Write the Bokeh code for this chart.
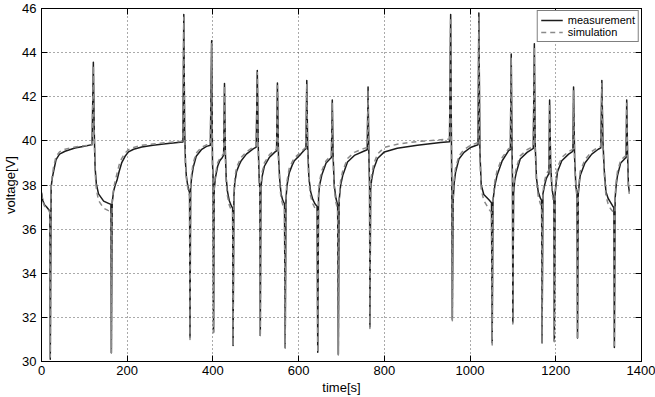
from bokeh.plotting import figure
from bokeh.models import LinearAxis, FixedTicker, Range1d, Legend, LegendItem
from bokeh.embed import file_html
from bokeh.resources import INLINE

# time axis [s] (one row per charge/discharge cycle)
time_s = [
    0, 3, 7, 12, 17, 19.5, 20.5, 22.5,
    25, 28, 34, 42, 55, 78, 100, 118, 121, 123, 125, 128, 133, 145, 155, 162, 163,
    165, 168, 172, 176, 181, 187, 195, 203, 215, 234, 260, 290, 318, 330, 332, 334, 336, 338, 341, 344, 345.5, 346.5,
    348, 350, 354, 361, 373, 385, 394, 397, 399, 400.5, 401.5,
    403, 406, 411, 416, 422, 425, 427, 429, 431, 434, 438, 443, 446, 447,
    449, 451, 455, 461, 466, 478, 493, 501, 503.5, 506, 508, 509.5, 510.5,
    512, 515, 520, 532, 545, 548.5, 550.5, 553, 556, 559, 563, 567, 568.6,
    570.5, 573, 578, 585, 590, 605, 615, 617, 619, 621, 624, 628, 633, 638, 643, 644.6,
    646.5, 649, 654, 664, 674, 676.5, 678.5, 680.5, 683, 687, 691, 692.6,
    694.5, 698, 703, 714, 730, 753, 760, 762, 764, 765.5, 766.3,
    768, 770, 775, 784, 800, 830, 877, 931, 952, 954.7, 956.5, 957.5, 958.6,
    960.5, 963, 966, 974, 986, 1001, 1015, 1018.5, 1020.5, 1023, 1026, 1032, 1044, 1050, 1051.6,
    1053.5, 1058, 1063, 1075, 1090, 1094, 1096, 1098, 1099, 1099.8,
    1101.5, 1104, 1108, 1117, 1133, 1145, 1147.5, 1150, 1152, 1155, 1159, 1164, 1167, 1168,
    1170, 1174, 1178, 1182, 1184, 1185.6, 1188, 1191, 1194, 1195.5, 1196.5,
    1198.5, 1201, 1204, 1214, 1230, 1238, 1240, 1241.5, 1244, 1247, 1249.5, 1250.7,
    1252.5, 1255, 1257, 1268, 1284, 1299, 1305, 1307.5, 1310, 1313, 1317, 1322, 1327, 1333, 1335.5, 1336.7,
    1338.5, 1341, 1344, 1351.5, 1361.5, 1364, 1365.5, 1367.5, 1369.5, 1371.5,
]

measured_v = [
    37.65, 37.3, 37.1, 37.0, 36.88, 36.8, 30.1, 37.9,
    38.3, 38.6, 39.15, 39.4, 39.53, 39.68, 39.76, 39.83, 43.56, 40.5, 38.8, 38.05, 37.6, 37.27, 37.18, 37.12, 30.4,
    37.2, 37.7, 38.0, 38.2, 38.6, 39.0, 39.3, 39.5, 39.62, 39.72, 39.8, 39.87, 39.93, 39.95, 45.73, 40.5, 39.0, 38.4, 38.0, 37.75, 37.65, 31.1,
    37.8, 38.3, 38.8, 39.3, 39.6, 39.75, 39.8, 44.54, 39.0, 38.3, 31.34,
    37.8, 38.35, 38.85, 39.1, 39.25, 39.35, 42.6, 39.5, 38.3, 37.7, 37.3, 37.05, 36.95, 30.73,
    37.5, 38.1, 38.6, 38.9, 39.1, 39.4, 39.63, 39.72, 43.19, 39.6, 38.2, 37.9, 31.18,
    37.9, 38.4, 38.85, 39.26, 39.5, 39.55, 42.62, 39.3, 38.2, 37.6, 37.3, 37.15, 30.63,
    37.4, 38.0, 38.55, 38.9, 39.1, 39.4, 39.62, 39.64, 42.74, 39.8, 38.3, 37.7, 37.35, 37.15, 37.03, 30.42,
    37.5, 38.0, 38.45, 39.0, 39.2, 39.25, 41.85, 39.3, 38.0, 37.4, 37.1, 30.33,
    37.3, 38.0, 38.44, 39.04, 39.34, 39.54, 39.6, 42.44, 39.2, 38.0, 31.57,
    37.8, 38.2, 38.72, 39.2, 39.5, 39.67, 39.8, 39.93, 39.96, 45.73, 40.0, 37.5, 31.91,
    37.3, 38.1, 38.56, 39.18, 39.48, 39.7, 39.8, 39.82, 45.8, 39.5, 38.0, 37.57, 37.33, 37.2, 30.85,
    37.3, 38.0, 38.44, 39.1, 39.56, 39.6, 43.94, 39.5, 38.2, 31.78,
    37.6, 38.2, 38.58, 39.18, 39.48, 39.63, 39.66, 44.4, 39.8, 38.3, 37.7, 37.4, 37.3, 30.85,
    37.6, 38.0, 38.3, 38.45, 38.5, 41.85, 39.0, 37.85, 37.5, 37.4, 30.93,
    37.6, 38.1, 38.6, 39.1, 39.4, 39.5, 39.55, 42.44, 39.2, 37.9, 37.7, 31.07,
    37.6, 38.1, 38.43, 39.0, 39.4, 39.62, 39.68, 42.74, 40.0, 38.7, 37.7, 37.4, 37.24, 37.04, 36.98, 30.63,
    37.4, 38.0, 38.43, 39.0, 39.2, 39.25, 41.85, 39.4, 38.0, 37.7,
]

simulated_v = [
    37.6, 37.25, 37.05, 36.95, 36.85, 36.75, 30.2, 37.9,
    38.4, 38.8, 39.3, 39.5, 39.62, 39.72, 39.78, 39.82, 43.4, 40.3, 38.6, 37.8, 37.3, 36.95, 36.85, 36.8, 30.4,
    37.3, 37.8, 38.2, 38.5, 38.9, 39.2, 39.45, 39.6, 39.7, 39.8, 39.86, 39.92, 39.96, 39.98, 45.6, 40.3, 38.9, 38.3, 37.9, 37.6, 37.5, 31.0,
    37.9, 38.5, 39.0, 39.45, 39.7, 39.82, 39.85, 44.4, 38.9, 38.2, 31.3,
    37.9, 38.5, 39.0, 39.2, 39.35, 39.42, 42.5, 39.4, 38.1, 37.5, 37.1, 36.85, 36.75, 30.7,
    37.6, 38.3, 38.8, 39.05, 39.25, 39.5, 39.7, 39.78, 43.1, 39.5, 38.1, 37.8, 31.1,
    38.0, 38.6, 39.0, 39.38, 39.58, 39.62, 42.5, 39.2, 38.0, 37.4, 37.1, 36.95, 30.6,
    37.5, 38.2, 38.75, 39.05, 39.22, 39.5, 39.68, 39.7, 42.6, 39.6, 38.1, 37.5, 37.15, 36.95, 36.85, 30.4,
    37.6, 38.2, 38.65, 39.1, 39.3, 39.33, 41.75, 39.2, 37.8, 37.2, 36.9, 30.3,
    37.4, 38.2, 38.65, 39.2, 39.48, 39.66, 39.7, 42.3, 39.1, 37.9, 31.5,
    37.9, 38.4, 38.95, 39.4, 39.7, 39.85, 39.97, 40.05, 40.08, 45.6, 39.9, 37.4, 31.85,
    37.4, 38.3, 38.75, 39.32, 39.6, 39.8, 39.9, 39.92, 45.6, 39.3, 37.8, 37.3, 36.9, 36.75, 30.75,
    37.4, 38.2, 38.65, 39.25, 39.65, 39.68, 43.8, 39.4, 38.1, 31.7,
    37.7, 38.4, 38.8, 39.32, 39.6, 39.72, 39.75, 44.25, 39.6, 38.1, 37.5, 37.15, 37.05, 30.8,
    37.7, 38.2, 38.5, 38.62, 38.66, 41.7, 38.9, 37.7, 37.3, 37.2, 30.9,
    37.7, 38.3, 38.8, 39.25, 39.52, 39.6, 39.63, 42.3, 39.1, 37.8, 37.5, 31.0,
    37.7, 38.3, 38.62, 39.15, 39.52, 39.72, 39.76, 42.6, 39.8, 38.5, 37.5, 37.15, 36.95, 36.8, 36.75, 30.6,
    37.5, 38.2, 38.62, 39.12, 39.3, 39.33, 41.7, 39.3, 37.9, 37.6,
]

assert len(time_s) == len(measured_v) == len(simulated_v), (len(time_s), len(measured_v), len(simulated_v))

x_ticks = [0, 200, 400, 600, 800, 1000, 1200, 1400]
y_ticks = [30, 32, 34, 36, 38, 40, 42, 44, 46]
series_labels = ["measurement", "simulation"]

FONT = "Liberation Sans"

p = figure(width=655, height=397, output_backend="svg", toolbar_location=None,
           x_range=Range1d(0, 1400), y_range=Range1d(30, 46),
           min_border_top=8, min_border_right=14, min_border_left=0, min_border_bottom=0,
           x_axis_label="time[s]", y_axis_label="voltage[V]")
p.background_fill_color = "white"
p.border_fill_color = "white"
p.outline_line_color = "black"
p.outline_line_width = 1

for ax, ticks in ((p.xaxis[0], x_ticks), (p.yaxis[0], y_ticks)):
    ax.ticker = FixedTicker(ticks=ticks)
    ax.major_tick_in = 6
    ax.major_tick_out = 0
    ax.minor_tick_line_color = None
    ax.axis_line_color = "black"
    ax.major_tick_line_color = "black"
    ax.major_label_text_font = FONT
    ax.major_label_text_font_size = "13px"
    ax.major_label_text_color = "black"
    ax.axis_label_text_font = FONT
    ax.axis_label_text_font_size = "13px"
    ax.axis_label_text_font_style = "normal"
    ax.axis_label_text_color = "black"
p.xaxis.major_label_standoff = 4
p.xaxis.axis_label_standoff = 2
p.yaxis.major_label_standoff = 5
p.yaxis.axis_label_standoff = 1

p.add_layout(LinearAxis(ticker=FixedTicker(ticks=x_ticks), major_label_text_font_size="0px",
                        major_label_text_color=None, major_label_standoff=0,
                        major_tick_in=6, major_tick_out=0,
                        minor_tick_line_color=None, axis_line_color="black"), "above")
p.add_layout(LinearAxis(ticker=FixedTicker(ticks=y_ticks), major_label_text_font_size="0px",
                        major_label_text_color=None, major_label_standoff=0,
                        major_tick_in=6, major_tick_out=0,
                        minor_tick_line_color=None, axis_line_color="black"), "right")

p.xgrid.ticker = FixedTicker(ticks=x_ticks)
p.ygrid.ticker = FixedTicker(ticks=y_ticks)
for g in (p.xgrid[0], p.ygrid[0]):
    g.grid_line_color = "#444444"
    g.grid_line_dash = "1 3"
    g.grid_line_width = 1
    g.grid_line_alpha = 0.9

r_meas = p.line(time_s, measured_v, line_color="#1c1c1c", line_width=1.5, line_join="round")
r_sim = p.line(time_s, simulated_v, line_color="#8a8a8a", line_width=1.5, line_dash="5 4",
               line_join="round")

legend = Legend(items=[LegendItem(label=series_labels[0], renderers=[r_meas]),
                       LegendItem(label=series_labels[1], renderers=[r_sim])],
                location="top_right", margin=2, padding=3, spacing=0,
                glyph_width=22, glyph_height=12, label_height=12, label_standoff=5,
                label_text_font=FONT, label_text_font_size="11px", label_text_color="black",
                border_line_color="black", border_line_width=1,
                background_fill_color="white", background_fill_alpha=1)
p.add_layout(legend)

open("out.html", "w").write(file_html(p, INLINE))
